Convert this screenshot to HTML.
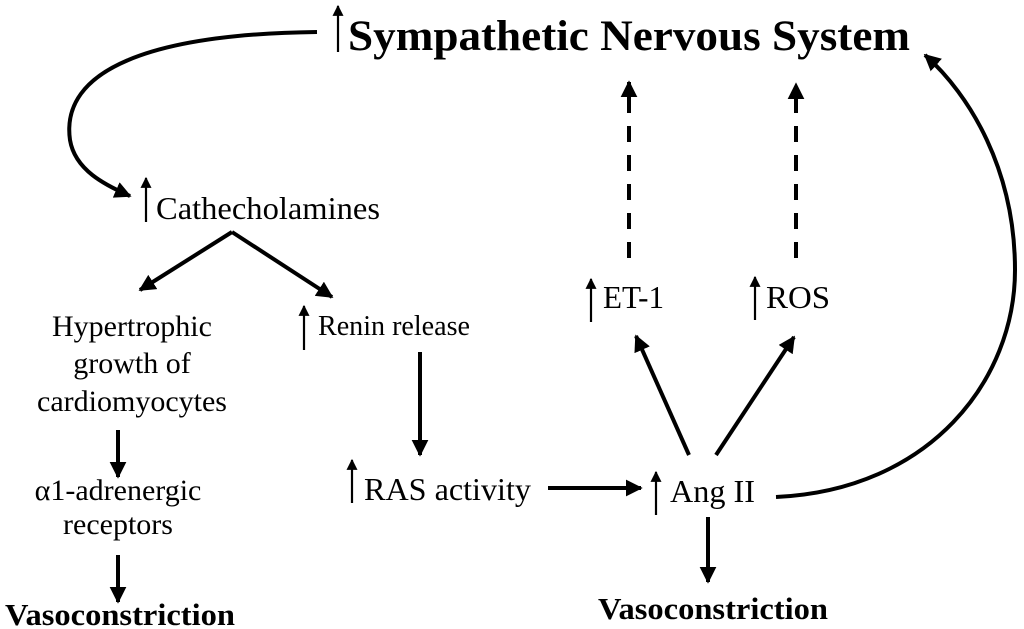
<!DOCTYPE html>
<html><head><meta charset="utf-8"><style>
html,body{margin:0;padding:0;background:#fff;width:1024px;height:629px;overflow:hidden}
svg text{font-family:"Liberation Serif",serif;fill:#000}
</style></head><body>
<svg width="1024" height="629" viewBox="0 0 1024 629" xmlns="http://www.w3.org/2000/svg">
<defs>
<marker id="a" viewBox="0 0 10 10" refX="9" refY="5" markerWidth="4.2" markerHeight="4.2" orient="auto" markerUnits="strokeWidth"><path d="M0,0L10,5L0,10z" fill="#000"/></marker>
<marker id="s" viewBox="0 0 10 10" refX="9" refY="5" markerWidth="6" markerHeight="5" orient="auto" markerUnits="strokeWidth"><path d="M0,0L10,5L0,10z" fill="#000"/></marker>
</defs>
<g stroke="#000" fill="none">
<g stroke-width="2.2" marker-end="url(#s)">
<line x1="338" y1="52" x2="338" y2="6"/>
<line x1="146" y1="222" x2="146" y2="178"/>
<line x1="304" y1="350" x2="304" y2="306"/>
<line x1="352" y1="503" x2="352" y2="460"/>
<line x1="656" y1="515" x2="656" y2="472"/>
<line x1="591" y1="322" x2="591" y2="279"/>
<line x1="755" y1="320" x2="755" y2="277"/>
</g>
<g stroke-width="4" marker-end="url(#a)">
<path d="M317,32 C150,34 60,70 70,140 C75,170 105,185 130,196"/>
<path d="M776,497 C930,490 1015,380 1015,270 C1015,170 970,95 925,55"/>
<line x1="232" y1="232" x2="140" y2="290"/>
<line x1="232" y1="232" x2="332" y2="297"/>
<line x1="420" y1="352" x2="420" y2="455"/>
<line x1="118" y1="430" x2="118" y2="477"/>
<line x1="118" y1="555" x2="118" y2="602"/>
<line x1="548" y1="488" x2="641" y2="488"/>
<line x1="708" y1="517" x2="708" y2="582"/>
<line x1="689" y1="455" x2="636" y2="336"/>
<line x1="716" y1="455" x2="794" y2="337"/>
<line x1="629" y1="258" x2="629" y2="82" stroke-dasharray="16,13"/>
<line x1="796" y1="258" x2="796" y2="84" stroke-dasharray="16,13"/>
</g>
</g>
<text x="348" y="50" font-size="43" font-weight="bold" textLength="562" lengthAdjust="spacingAndGlyphs">Sympathetic Nervous System</text>
<text x="156" y="219" font-size="32" textLength="224" lengthAdjust="spacingAndGlyphs">Cathecholamines</text>
<text x="132" y="336" font-size="30" text-anchor="middle">Hypertrophic</text>
<text x="132" y="373" font-size="30" text-anchor="middle">growth of</text>
<text x="132" y="411" font-size="30" text-anchor="middle">cardiomyocytes</text>
<text x="318" y="335" font-size="29" textLength="152" lengthAdjust="spacingAndGlyphs">Renin release</text>
<text x="364" y="500" font-size="32" textLength="167" lengthAdjust="spacingAndGlyphs">RAS activity</text>
<text x="670" y="502" font-size="32" textLength="85" lengthAdjust="spacingAndGlyphs">Ang II</text>
<text x="603" y="308" font-size="32" textLength="61" lengthAdjust="spacingAndGlyphs">ET-1</text>
<text x="766" y="308" font-size="32" textLength="64" lengthAdjust="spacingAndGlyphs">ROS</text>
<text x="118" y="500" font-size="30" text-anchor="middle">α1-adrenergic</text>
<text x="118" y="534" font-size="30" text-anchor="middle">receptors</text>
<text x="5" y="625" font-size="31" font-weight="bold" textLength="230" lengthAdjust="spacingAndGlyphs">Vasoconstriction</text>
<text x="598" y="619" font-size="31" font-weight="bold" textLength="230" lengthAdjust="spacingAndGlyphs">Vasoconstriction</text>
</svg>
</body></html>
